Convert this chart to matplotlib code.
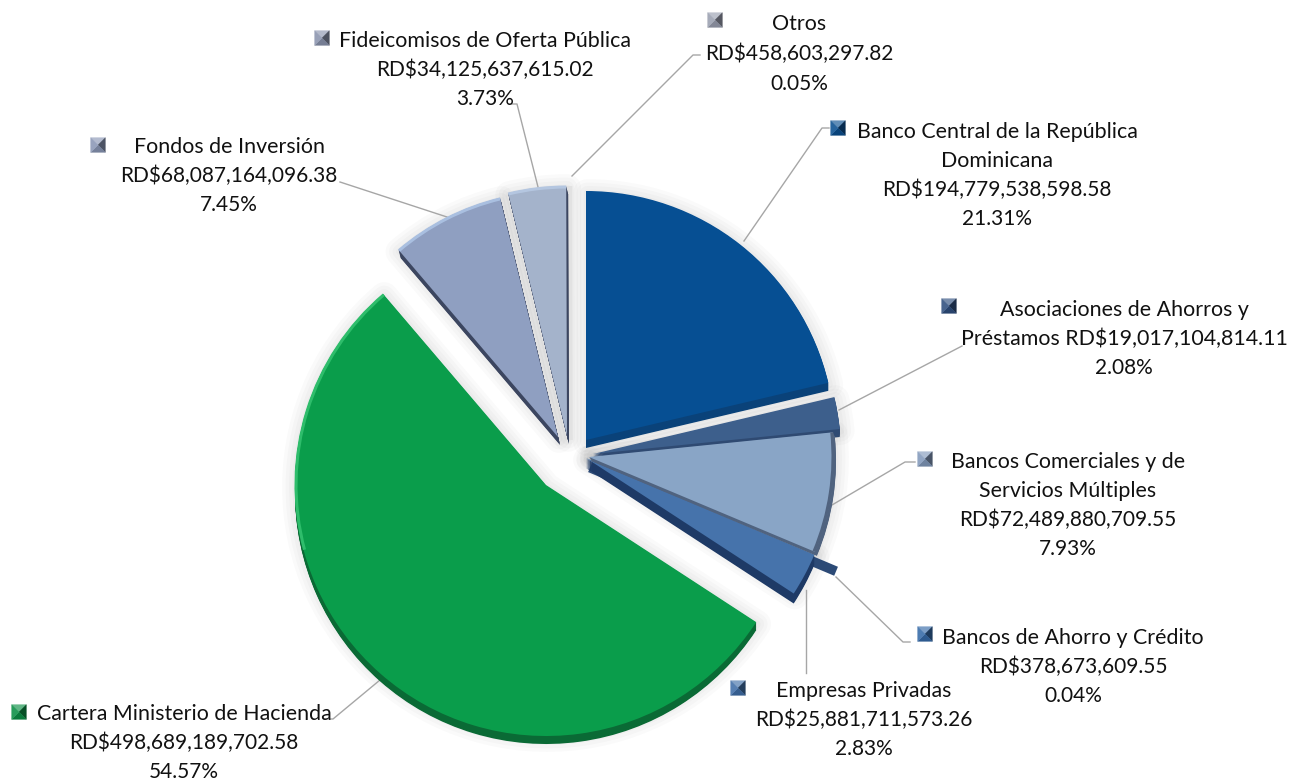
import numpy as np
import matplotlib
matplotlib.use("Agg")
import matplotlib.pyplot as plt
from matplotlib.patches import Wedge, Polygon, Arc

# Datos (RD$)
categorias = ["Banco Central", "Asociaciones", "Bancos Comerciales", "Bancos de Ahorro",
              "Empresas Privadas", "Cartera Hacienda", "Fondos", "Fideicomisos", "Otros"]
montos = [194779538598.58, 19017104814.11, 72489880709.55, 378673609.55,
          25881711573.26, 498689189702.58, 68087164096.38, 34125637615.02, 458603297.82]
porcentajes = [21.31, 2.08, 7.93, 0.04, 2.83, 54.57, 7.45, 3.73, 0.05]
nombres = [["Banco Central de la República", "Dominicana"],
           ["Asociaciones de Ahorros y"],
           ["Bancos Comerciales y de", "Servicios Múltiples"],
           ["Bancos de Ahorro y Crédito"],
           ["Empresas Privadas"],
           ["Cartera Ministerio de Hacienda"],
           ["Fondos de Inversión"],
           ["Fideicomisos de Oferta Pública"],
           ["Otros"]]

# Colores: cara, lateral, borde, marcador
cara = ["#064f93", "#3d5f8c", "#89a5c6", "#2c4a76", "#4673ab", "#0a9d4b", "#8f9fc1", "#a4b3cb", "#e2e2e2"]
lateral = ["#0a4279", "#2f4a72", "#50637f", "#2c4a76", "#1e3a66", "#0a6a35", "#3c4660", "#3c4660", "#d0d0d0"]
borde = [None, None, "#50637f", None, None, "#2ebd6b", "#a9bfe0", "#b4c6e0", None]
color_marca = ["#0a4f90", "#2f4f7f", "#8299bb", "#356aa8", "#3f6ea8", "#0a8f45", "#8a97b5", "#8a93ad", "#9a9fb0"]

# Geometria en pixeles
centros = [(586, 440), (593, 454), (589, 457), (590, 467.6), (586, 458), (546, 485), (558, 437), (567, 436), (570, 440)]
radios = [249, 248, 245, 267, 248, 251, 246, 250, 254]
extrusion = [(0, 8), (0, 8), (2, 4), (0, 0), (0, 10), (0, 8), (2, 8), (2, 8), (0, 0)]
orden = [8, 0, 1, 3, 4, 2, 5, 6, 7]

# Etiquetas
centro_x = [997, 1124, 1068, 1073, 864, 184, 229, 485, 799]
linea_y = [138, 316, 468, 644, 697, 720, 153, 47, 30]
marca = [(838, 128), (949, 306), (925, 459), (925, 634), (738, 688), (19, 712), (98, 145), (322, 38), (715, 20)]
guias = [[(744, 241), (822, 128), (829, 128)],
         [(839, 410), (962, 346)],
         [(832, 505), (905, 462), (915, 462)],
         [(836, 577), (903, 642), (910, 642)],
         [(806, 590), (806, 673)],
         [(380, 680), (333, 719), (326, 719)],
         [(447, 217), (340, 182)],
         [(538, 187), (517, 104), (512, 104)],
         [(572, 176), (693, 55), (700, 55)]]

plt.rcParams["font.family"] = ["Lato", "DejaVu Sans"]
fig = plt.figure(figsize=(12.89, 7.80), dpi=100)
ax = fig.add_axes([0, 0, 1, 1])
ax.set_xlim(0, 1289)
ax.set_ylim(780, 0)  # eje y hacia abajo, en pixeles
ax.axis("off")

# angulos en sentido horario desde las 12, eje y invertido
acum = np.cumsum([0] + montos) / sum(montos) * 360
ini = acum[:-1] - 90
fin = acum[1:] - 90


def cuna(i, dx=0, dy=0, **kw):
    cx, cy = centros[i]
    return Wedge((cx + dx, cy + dy), radios[i], ini[i], fin[i], **kw)


# sombra difusa
for lw in [20, 15, 10, 5]:
    for i in orden:
        if porcentajes[i] > 1:
            ax.add_patch(cuna(i, 1, 2, facecolor="none", edgecolor="#000000", alpha=0.02,
                              linewidth=lw, joinstyle="round", zorder=1))

for g in guias:
    xs, ys = zip(*g)
    ax.plot(xs, ys, color="#a6a6a6", lw=1.0, zorder=1.5)

z = 2
for i in orden:
    cx, cy = centros[i]
    z += 1
    if porcentajes[i] < 1:
        # rebanadas casi nulas: solo se ve el canto
        ang = np.deg2rad((ini[i] + fin[i]) / 2)
        ancho = 7 if i == 3 else 4
        ax.plot([cx, cx + radios[i] * np.cos(ang)], [cy, cy + radios[i] * np.sin(ang)],
                color=cara[i], lw=ancho, solid_capstyle="butt", zorder=z)
        continue
    dx, dy = extrusion[i]
    for k in np.linspace(1, 0.1, 10):
        ax.add_patch(cuna(i, dx * k, dy * k, facecolor=lateral[i], edgecolor="none", zorder=z))
    ax.add_patch(cuna(i, facecolor=cara[i], edgecolor="none", zorder=z))
    if borde[i]:
        # en la Cartera el brillo solo va en el lado superior izquierdo
        t1 = 165 if i == 5 else ini[i]
        ax.add_patch(Arc((cx, cy), 2 * radios[i] - 2, 2 * radios[i] - 2, theta1=t1, theta2=fin[i],
                         color=borde[i], lw=2.2, zorder=z))


def marcador(x, y, color, lado=7.3):
    # cuadrito con bisel de piramide
    c = np.array(matplotlib.colors.to_rgb(color))
    caras = [([(-1, -1), (1, -1)], 0.35), ([(1, -1), (1, 1)], -0.45),
             ([(1, 1), (-1, 1)], -0.15), ([(-1, 1), (-1, -1)], 0.12)]
    for (a, b), t in caras:
        tono = c + (1 - c) * t if t > 0 else c * (1 + t)
        ax.add_patch(Polygon([(x + a[0] * lado, y + a[1] * lado), (x + b[0] * lado, y + b[1] * lado), (x, y)],
                             facecolor=tono, edgecolor=tono, lw=0.3, zorder=40))


for i in range(len(montos)):
    marcador(marca[i][0], marca[i][1], color_marca[i])
    lineas = list(nombres[i])
    monto = f"RD${montos[i]:,.2f}"
    if i == 1:
        lineas.append("Préstamos " + monto)
    else:
        lineas.append(monto)
    lineas.append(f"{porcentajes[i]:.2f}%")
    paso = 30 if i == 8 else 29
    for j, t in enumerate(lineas):
        # los digitos de Lato salen mas anchos que el resto
        tam = 15.0 if t.startswith("RD$") or t.endswith("%") else 15.4
        ax.text(centro_x[i], linea_y[i] + j * paso, t, ha="center", va="baseline",
                fontsize=tam, color="#111111", zorder=50)

fig.savefig("out.png", dpi=100, facecolor="white")
